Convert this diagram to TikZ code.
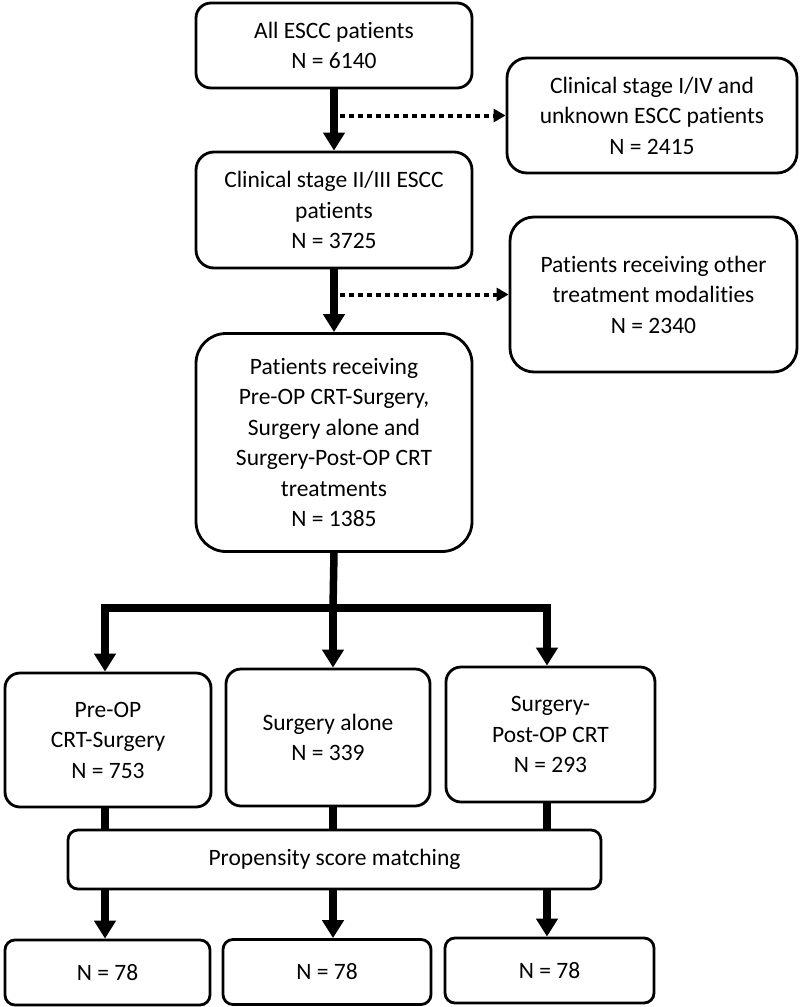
\documentclass[tikz,border=0pt]{standalone}
\usepackage{fontspec}
\setmainfont[Ligatures=NoCommon]{Carlito}
\usetikzlibrary{arrows.meta}
\begin{document}
\begin{tikzpicture}[x=1pt,y=-1pt,
  box/.style={draw, line width=2.8pt, align=center, inner sep=0pt,
    font=\fontsize{23.5}{30.5}\selectfont},
  thickline/.style={line width=7.5pt},
  thickarrow/.style={line width=7.5pt, -{Triangle[length=18pt,width=21pt]}},
  dotarrow/.style={line width=4pt, dash pattern=on 5pt off 4pt, -{Triangle[length=12pt,width=13pt]}}
]
\useasboundingbox (0,0) rectangle (800,1007);

\node[box, minimum width=276pt, minimum height=85pt, rounded corners=15pt] (all) at (334,45.5) {All ESCC patients\\N = 6140};
\node[box, minimum width=290pt, minimum height=115pt, rounded corners=20pt] (excl1) at (652,115.5) {Clinical stage I/IV and\\unknown ESCC patients\\N = 2415};
\node[box, minimum width=276pt, minimum height=116pt, rounded corners=18pt] (stage) at (334,210) {Clinical stage II/III ESCC\\patients\\N = 3725};
\node[box, minimum width=287pt, minimum height=155pt, rounded corners=24pt] (excl2) at (653.5,294.5) {Patients receiving other\\treatment modalities\\N = 2340};
\node[box, minimum width=276pt, minimum height=218pt, rounded corners=30pt] (recv) at (334,442.5) {Patients receiving\\Pre-OP CRT-Surgery,\\Surgery alone and\\Surgery-Post-OP CRT\\treatments\\N = 1385};

\node[box, minimum width=206pt, minimum height=134pt, rounded corners=15pt] (pre) at (108,740) {Pre-OP\\CRT-Surgery\\N = 753};
\node[box, minimum width=204pt, minimum height=137pt, rounded corners=15pt] (alone) at (328,737.5) {Surgery alone\\N = 339};
\node[box, minimum width=209pt, minimum height=135pt, rounded corners=15pt] (post) at (550.5,734.5) {Surgery-\\Post-OP CRT\\N = 293};

\node[box, minimum width=533pt, minimum height=59pt, rounded corners=10pt] (psm) at (334.5,859.5) {Propensity score matching};

\node[box, minimum width=205pt, minimum height=65pt, rounded corners=10pt] (m1) at (107.5,972.5) {N = 78};
\node[box, minimum width=208pt, minimum height=65pt, rounded corners=10pt] (m2) at (327,972) {N = 78};
\node[box, minimum width=209pt, minimum height=65pt, rounded corners=10pt] (m3) at (549.5,970.5) {N = 78};

% main flow
\draw[thickarrow] (all.south) -- (stage.north);
\draw[thickarrow] (stage.south) -- (recv.north);
\draw[dotarrow] ([xshift=6pt]all.south |- excl1.west) -- (excl1.west);
\draw[dotarrow] ([xshift=6pt]stage.south |- excl2.west) -- (excl2.west);

% split
\coordinate (split) at (333,608);
\coordinate (bl) at (105,608);
\coordinate (br) at (547,608);
\draw[thickline] (recv.south) -- (split);
\draw[thickline, line cap=rect] (bl) -- (br);
\draw[thickarrow] (bl) -- (bl |- pre.north);
\draw[thickarrow] (split) -- (split |- alone.north);
\draw[thickarrow] (br) -- (br |- post.north);

% to psm
\draw[thickline] (pre.south -| bl) -- (psm.north -| bl);
\draw[thickline] (alone.south -| split) -- (psm.north -| split);
\draw[thickline] (post.south -| br) -- (psm.north -| br);

% from psm
\draw[thickarrow] (psm.south -| bl) -- (m1.north -| bl);
\draw[thickarrow] (psm.south -| split) -- (m2.north -| split);
\draw[thickarrow] (psm.south -| br) -- (m3.north -| br);
\end{tikzpicture}
\end{document}
